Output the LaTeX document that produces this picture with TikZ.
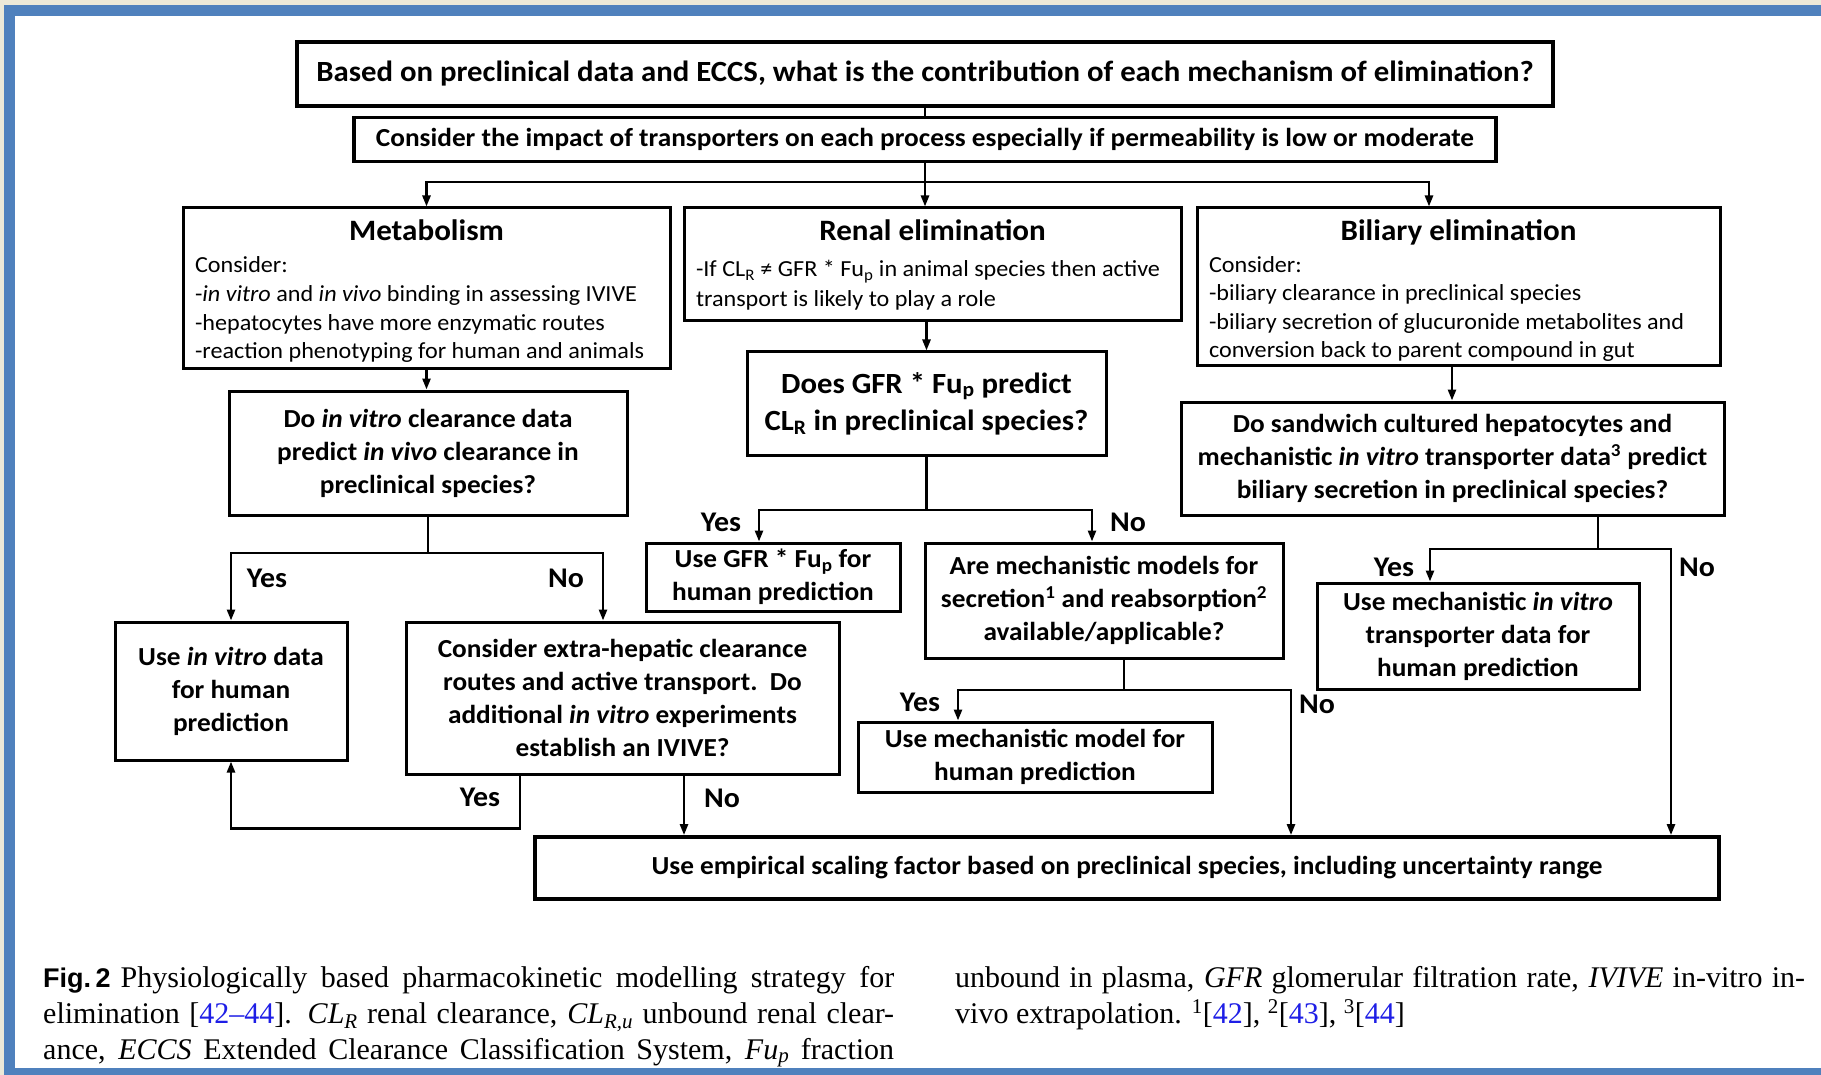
\documentclass[tikz,border=0pt]{standalone}
\usepackage{fontspec}
\setmainfont{Liberation Serif}
\newfontfamily\boxfont[FakeStretch=1.05]{Carlito}
\newfontfamily\figlabelfont{Liberation Sans}
\usetikzlibrary{arrows.meta}
\definecolor{frameblue}{HTML}{4F81BD}
\definecolor{framebeige}{HTML}{ECE9D8}
\definecolor{refblue}{HTML}{1E1EE6}

\begin{document}
\begin{tikzpicture}[x=1pt,y=-1pt,
  box/.style={draw, line width=3pt, inner sep=0pt, align=center},
  descbox/.style={draw, line width=3pt, inner sep=0pt},
  heavybox/.style={box, line width=3.8pt},
  qtext/.style={font=\boxfont\bfseries\fontsize{26}{33}\selectfont},
  conn/.style={line width=2.5pt},
  arr/.style={conn, -{Triangle[length=11pt,width=8pt]}},
  lab/.style={inner sep=0pt, font=\boxfont\bfseries\fontsize{28.5}{30}\selectfont},
  capt/.style={inner sep=0pt, anchor=base west, font=\fontsize{30}{34}\selectfont},
]
\useasboundingbox (0,0) rectangle (1821,1075);
% page frame
\fill[framebeige] (0,0) rectangle (1821,1075);
\fill[frameblue] (4,5) rectangle (1821,1075);
\fill[white] (15,16) rectangle (1821,1068);

% header boxes
\node[heavybox, minimum width=1256, minimum height=64, font=\boxfont\bfseries\fontsize{29.3}{33}\selectfont] (top) at (925,74)
  {Based on preclinical data and ECCS, what is the contribution of each mechanism of elimination?};
\node[heavybox, minimum width=1142, minimum height=44, font=\boxfont\bfseries\fontsize{26}{30}\selectfont] (trans) at (925,139.5)
  {Consider the impact of transporters on each process especially if permeability is low or moderate};

% the three elimination routes
\node[descbox, minimum width=487, minimum height=160] (metab) at (426.5,288) {%
\begin{minipage}[c][160pt][t]{463pt}
\boxfont\centering\bfseries\fontsize{29.6}{33}\selectfont\rule{0pt}{33pt}Metabolism\par
\raggedright\mdseries\fontsize{23}{28.7}\selectfont\vspace{3pt}
Consider:\par
-\textit{in vitro} and \textit{in vivo} binding in assessing IVIVE\par
-hepatocytes have more enzymatic routes\par
-reaction phenotyping for human and animals\par
\end{minipage}};

\node[descbox, minimum width=497, minimum height=113] (renal) at (932.5,264.5) {%
\begin{minipage}[c][113pt][t]{473pt}
\boxfont\centering\bfseries\fontsize{29.6}{33}\selectfont\rule{0pt}{33pt}Renal elimination\par
\raggedright\mdseries\fontsize{23}{29.5}\selectfont\vspace{6.5pt}
-If CL\textsubscript{R} ≠ GFR * Fu\textsubscript{p} in animal species then active\par
transport is likely to play a role\par
\end{minipage}};

\node[descbox, minimum width=523, minimum height=157] (bil) at (1458.5,286.5) {%
\begin{minipage}[c][157pt][t]{499pt}
\boxfont\centering\bfseries\fontsize{29.6}{33}\selectfont\rule{0pt}{33pt}Biliary elimination\par
\raggedright\mdseries\fontsize{23}{28.5}\selectfont\vspace{3pt}
Consider:\par
-biliary clearance in preclinical species\par
-biliary secretion of glucuronide metabolites and\par
conversion back to parent compound in gut\par
\end{minipage}};

% questions and outcomes
\node[box, minimum width=398, minimum height=124, qtext] (q1) at (428,453)
  {Do \textit{in vitro} clearance data\\predict \textit{in vivo} clearance in\\preclinical species?};
\node[box, minimum width=359, minimum height=103, font=\boxfont\bfseries\fontsize{29.3}{37}\selectfont] (gfrq) at (926.5,403.5)
  {Does GFR * Fu\textsubscript{p} predict\\CL\textsubscript{R} in preclinical species?};
\node[box, minimum width=543, minimum height=113, qtext] (sandq) at (1452.5,458.5)
  {Do sandwich cultured hepatocytes and\\mechanistic \textit{in vitro} transporter data\textsuperscript{3} predict\\biliary secretion in preclinical species?};
\node[box, minimum width=254, minimum height=68, qtext] (usegfr) at (773,577)
  {Use GFR * Fu\textsubscript{p} for\\human prediction};
\node[box, minimum width=358, minimum height=115, qtext] (mechq) at (1104,600.5)
  {Are mechanistic models for\\secretion\textsuperscript{1} and reabsorption\textsuperscript{2}\\available/applicable?};
\node[box, minimum width=322, minimum height=106, qtext] (usemvt) at (1478,636)
  {Use mechanistic \textit{in vitro}\\transporter data for\\human prediction};
\node[box, minimum width=232, minimum height=138, qtext] (usevit) at (231,691)
  {Use \textit{in vitro} data\\for human\\prediction};
\node[box, minimum width=433, minimum height=152, qtext] (extra) at (622.5,698)
  {Consider extra-hepatic clearance\\routes and active transport.\ \ Do\\additional \textit{in vitro} experiments\\establish an IVIVE?};
\node[box, minimum width=354, minimum height=70, qtext] (usemm) at (1035,757)
  {Use mechanistic model for\\human prediction};
\node[heavybox, minimum width=1184, minimum height=62, qtext] (empir) at (1127,868)
  {Use empirical scaling factor based on preclinical species, including uncertainty range};

% connectors: header
\coordinate (j1) at (925,182);
\draw[conn] (top.south) -- (trans.north);
\draw[conn] (trans.south) -- (j1);
\draw[arr] (j1) -| (metab.north);
\draw[arr] (j1) -- (j1 |- renal.north);
\draw[arr] (j1) -| ([xshift=-29.5pt]bil.north);

% metabolism branch
\draw[arr] (metab.south) -- (metab.south |- q1.north);
\coordinate (j2) at (428,553);
\draw[conn] (q1.south) -- (j2);
\draw[arr] (j2) -| (usevit.north);
\draw[arr] (j2) -| ([xshift=-19.5pt]extra.north);
\draw[arr] ([xshift=-102.5pt]extra.south) -- ++(0,53) -| (usevit.south);
\draw[arr] ([xshift=61.5pt]extra.south) -- ([xshift=61.5pt]extra.south |- empir.north);

% renal branch
\draw[arr] (gfrq.north |- renal.south) -- (gfrq.north);
\coordinate (j3) at (926.5,510);
\draw[conn] (gfrq.south) -- (j3);
\draw[arr] (j3) -| ([xshift=-14pt]usegfr.north);
\draw[arr] (j3) -| ([xshift=-12pt]mechq.north);
\coordinate (j4) at (1124,690);
\draw[conn] (mechq.south -| j4) -- (j4);
\draw[arr] (j4) -| ([xshift=-77pt]usemm.north);
\draw[arr] (j4) -| ([xshift=164pt]empir.north);

% biliary branch
\draw[arr] ([xshift=-6.5pt]bil.south) -- ([xshift=-6.5pt]bil.south |- sandq.north);
\coordinate (j5) at (1598,549);
\draw[conn] (sandq.south -| j5) -- (j5);
\draw[arr] (j5) -| ([xshift=-48pt]usemvt.north);
\draw[arr] (j5) -| ([xshift=544pt]empir.north);

% branch labels
\node[lab] (l1y) at (267,578) {Yes};
\node[lab] (l1n) at (566,578) {No};
\node[lab] (l2y) at (480,797) {Yes};
\node[lab] (l2n) at (722,798) {No};
\node[lab] (l3y) at (721,522) {Yes};
\node[lab] (l3n) at (1128,522) {No};
\node[lab] (l4y) at (920,702) {Yes};
\node[lab] (l4n) at (1317,704) {No};
\node[lab] (l5y) at (1394,567) {Yes};
\node[lab] (l5n) at (1697,567) {No};

% caption
\node[capt] (c1) at (43,987) {\makebox[851pt][s]{{\figlabelfont\bfseries\fontsize{27}{34}\selectfont Fig.\,2}\hspace{10pt}Physiologically based pharmacokinetic modelling strategy for}};
\node[capt] (c2) at (43,1023) {\makebox[851pt][s]{elimination [\textcolor{refblue}{42–44}]. \textit{CL}\textsubscript{\textit{R}} renal clearance, \textit{CL}\textsubscript{\textit{R,u}} unbound renal clear-}};
\node[capt] (c3) at (43,1059) {\makebox[851pt][s]{ance, \textit{ECCS} Extended Clearance Classification System, \textit{Fu}\textsubscript{\textit{p}} fraction}};
\node[capt] (c4) at (955,987) {\makebox[850pt][s]{unbound in plasma, \textit{GFR} glomerular filtration rate, \textit{IVIVE} in-vitro in-}};
\node[capt] (c5) at (955,1023) {vivo extrapolation. \textsuperscript{1}[\textcolor{refblue}{42}], \textsuperscript{2}[\textcolor{refblue}{43}], \textsuperscript{3}[\textcolor{refblue}{44}]};
\end{tikzpicture}
\end{document}
